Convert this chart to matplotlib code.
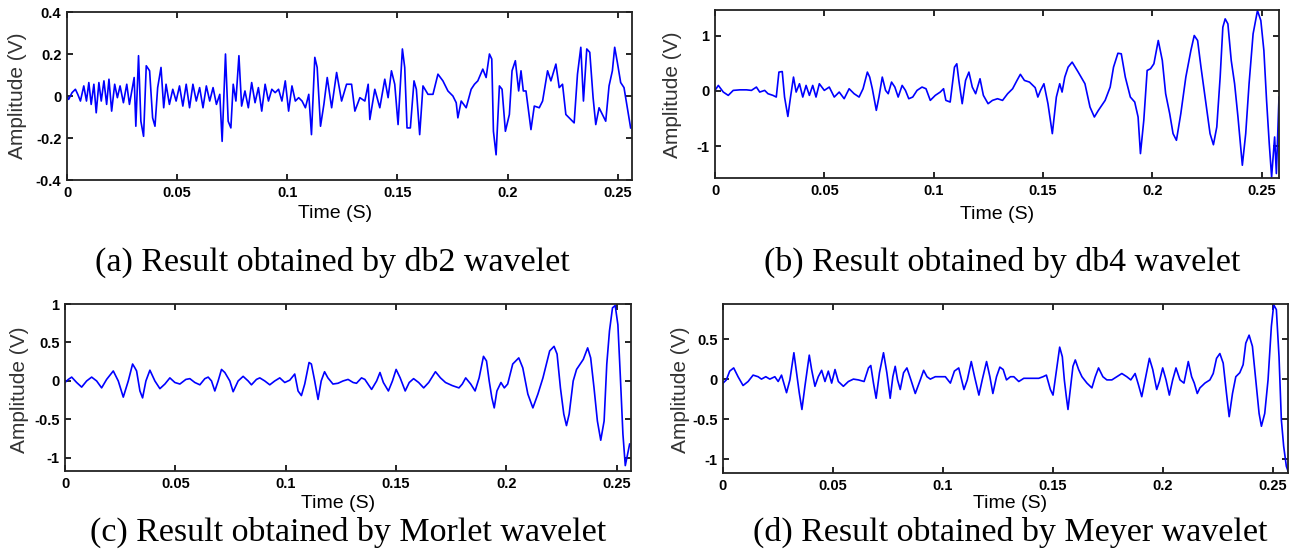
import numpy as np
import matplotlib
matplotlib.use('Agg')
import matplotlib.pyplot as plt

W, H = 1297, 555

# values: time in ms, amplitude in V
db2_t = [0.0, 0.76, 2.29, 3.81, 4.88, 6.10, 7.62, 8.84, 9.91, 10.98, 12.20, 13.26, 14.48, 15.55, 16.77,
         17.99, 19.05, 20.27, 21.65, 22.87, 24.09, 25.61, 27.13, 28.35, 29.42, 30.49, 31.25, 32.47, 33.54,
         34.76, 35.98, 37.50, 38.87, 39.94, 41.16, 42.68, 43.90, 44.97, 46.49, 48.02, 49.54, 51.07, 52.59,
         54.12, 55.64, 57.16, 58.69, 60.21, 61.74, 63.26, 64.79, 66.31, 67.84, 69.36, 70.43, 71.95, 73.17,
         74.39, 75.46, 76.68, 78.05, 79.27, 80.79, 82.32, 83.84, 85.37, 86.89, 88.41, 89.94, 91.46, 92.99,
         94.51, 96.04, 97.56, 99.09, 100.61, 102.13, 103.66, 105.18, 106.71, 108.23, 109.76, 110.98, 112.50,
         113.57, 115.09, 116.62, 118.14, 120.14, 122.4, 124.66, 126.92, 129.19, 130.69, 132.96, 135.22,
         136.73, 137.48, 139.74, 142.01, 144.27, 145.78, 147.29, 148.79, 150.30, 152.26, 153.32, 154.37,
         155.88, 157.54, 158.60, 160.11, 161.61, 163.88, 166.14, 168.40, 170.66, 172.93, 175.19, 176.70,
         177.45, 178.96, 181.22, 183.48, 184.99, 186.50, 188.76, 190.27, 191.78, 192.84, 193.59, 194.80,
         196.30, 197.51, 199.02, 200.83, 202.04, 203.54, 205.05, 206.11, 207.16, 208.37, 210.63, 212.14,
         214.40, 215.91, 218.17, 219.68, 221.95, 223.45, 224.96, 226.47, 228.73, 230.24, 231.75, 233.26,
         234.46, 235.97, 237.33, 238.84, 240.05, 241.55, 243.06, 244.57, 246.08, 247.59, 248.64, 249.85,
         251.36, 252.87, 254.37, 255.88]
db2_v = [0.0, -0.016, 0.016, 0.032, 0.008, -0.024, 0.048, -0.024, 0.064, -0.04, 0.056, -0.08, 0.064, -0.024,
         0.072, -0.04, 0.08, -0.072, 0.056, -0.008, 0.048, -0.032, 0.056, -0.04, 0.024, 0.088, -0.144, 0.192,
         -0.12, -0.192, 0.144, 0.12, -0.104, -0.144, 0.04, 0.136, -0.056, 0.056, -0.04, 0.032, -0.024, 0.048,
         -0.048, 0.056, -0.056, 0.056, -0.024, 0.04, -0.056, 0.048, -0.024, 0.04, -0.04, 0.008, -0.216, 0.2,
         -0.12, -0.152, 0.056, -0.024, 0.192, -0.048, 0.024, -0.056, 0.064, -0.032, 0.04, -0.072, 0.056,
         -0.024, 0.032, 0.016, 0.032, -0.024, 0.072, -0.072, 0.048, -0.024, -0.008, -0.024, -0.056, 0.008,
         -0.184, 0.184, 0.136, -0.144, -0.04, 0.088, -0.056, 0.112, -0.024, 0.056, 0.056, -0.072, -0.008,
         -0.024, 0.056, -0.112, 0.032, -0.056, 0.08, -0.008, 0.12, 0.056, -0.136, 0.224, 0.136, -0.152,
         -0.152, 0.072, 0.032, -0.184, 0.048, 0.008, 0.008, 0.104, 0.072, 0.024, 0.0, -0.032, -0.104, -0.024,
         -0.056, 0.032, 0.056, 0.072, 0.128, 0.088, 0.2, 0.176, -0.168, -0.28, 0.048, 0.032, -0.168, -0.088,
         0.12, 0.168, 0.024, 0.12, 0.024, 0.024, -0.16, -0.048, -0.056, -0.024, 0.12, 0.072, 0.152, 0.04,
         0.056, -0.088, -0.112, -0.128, 0.104, 0.232, -0.024, 0.224, 0.208, -0.008, -0.136, -0.056, -0.088,
         -0.12, 0.048, 0.12, 0.232, 0.16, 0.064, 0.04, -0.056, -0.152]

db4_t = [0.0, 1.52, 3.79, 6.06, 8.33, 11.36, 14.39, 16.67, 18.94, 20.45, 22.73, 24.24, 26.52, 28.03, 29.24,
         30.76, 31.82, 33.33, 34.55, 35.91, 37.12, 38.64, 40.15, 41.67, 43.18, 44.70, 46.21, 47.73, 50.0,
         52.27, 54.55, 56.82, 59.09, 61.36, 63.64, 65.91, 67.73, 69.70, 70.76, 71.97, 73.79, 75.0, 76.52,
         78.03, 79.24, 80.76, 82.27, 83.79, 85.61, 87.12, 88.64, 90.45, 92.42, 94.70, 96.52, 98.48, 100.76,
         103.03, 104.55, 105.61, 107.58, 109.55, 110.61, 111.54, 113.08, 114.62, 116.15, 117.69, 119.23,
         121.23, 122.77, 124.92, 126.92, 129.23, 131.54, 133.85, 136.15, 138.15, 139.69, 141.54, 143.85,
         146.46, 147.69, 148.92, 150.46, 152.31, 154.31, 156.15, 157.69, 158.77, 160.0, 161.54, 163.38,
         166.15, 169.23, 171.54, 173.54, 175.38, 178.46, 180.77, 182.31, 184.31, 185.85, 187.69, 190.0,
         192.0, 193.54, 194.62, 196.15, 197.69, 199.23, 200.77, 202.77, 204.62, 206.15, 208.0, 209.54,
         211.08, 213.08, 215.38, 217.69, 219.23, 220.77, 222.31, 224.62, 226.46, 228.0, 229.54, 231.08,
         232.31, 233.38, 234.62, 236.15, 237.69, 239.23, 241.23, 242.77, 244.31, 246.15, 248.15, 249.69,
         251.08, 252.31, 253.54, 254.62, 256.0, 256.8, 258.0]
db4_v = [0.01, 0.10, -0.02, -0.08, 0.01, 0.02, 0.02, 0.01, 0.07, -0.02, 0.01, -0.05, -0.08, -0.11, 0.34,
         0.35, -0.11, -0.46, -0.11, 0.25, -0.02, 0.13, -0.11, 0.10, -0.08, 0.10, -0.11, 0.13, 0.01, 0.07,
         -0.11, -0.02, -0.14, 0.04, -0.05, -0.11, 0.04, 0.34, 0.25, 0.04, -0.35, -0.11, 0.25, 0.01, -0.05,
         0.16, 0.07, -0.11, 0.10, 0.01, -0.14, -0.11, 0.01, 0.07, 0.04, -0.17, -0.08, -0.02, 0.04, -0.17,
         -0.2, 0.43, 0.49, 0.19, -0.23, 0.19, 0.34, 0.07, -0.05, 0.22, -0.08, -0.23, -0.17, -0.14, -0.17,
         -0.05, 0.04, 0.19, 0.30, 0.19, 0.16, 0.06, -0.11, 0.01, 0.13, -0.23, -0.77, -0.11, 0.13, -0.02,
         0.25, 0.43, 0.52, 0.34, 0.13, -0.29, -0.47, -0.35, -0.17, 0.07, 0.43, 0.68, 0.67, 0.25, -0.11,
         -0.20, -0.47, -1.13, -0.53, 0.37, 0.40, 0.49, 0.91, 0.55, -0.05, -0.41, -0.77, -0.89, -0.41, 0.25,
         0.73, 1.0, 0.91, 0.43, -0.23, -0.77, -0.97, -0.65, 0.25, 1.15, 1.30, 1.21, 0.55, 0.13, -0.47, -1.34,
         -0.77, 0.13, 1.03, 1.45, 1.27, 0.73, -0.17, -0.95, -1.55, -0.83, -1.49, -0.11]

morlet_t = [0.0, 1.51, 3.02, 5.28, 7.54, 9.80, 12.07, 14.33, 16.59, 18.85, 21.87, 24.13, 26.40, 28.66,
            30.62, 31.67, 32.43, 33.94, 35.14, 36.65, 38.46, 40.72, 42.99, 45.25, 47.51, 49.77, 52.04,
            54.75, 56.56, 58.82, 61.09, 63.35, 64.86, 66.37, 67.87, 69.38, 70.89, 72.40, 74.66, 76.17,
            78.43, 80.69, 82.96, 84.46, 86.73, 88.24, 90.50, 92.76, 95.02, 97.29, 99.55, 101.81, 104.07,
            105.58, 107.09, 108.6, 110.56, 111.61, 113.12, 114.63, 116.06, 117.58, 119.10, 121.38, 123.67,
            125.95, 128.23, 130.52, 132.04, 134.32, 135.84, 138.89, 141.17, 142.69, 144.22, 146.50, 148.33,
            150.0, 151.83, 154.11, 155.94, 157.91, 160.20, 162.48, 164.76, 167.81, 170.09, 172.37, 175.42,
            178.46, 179.98, 181.51, 183.79, 185.77, 187.60, 189.57, 190.94, 192.16, 193.38, 194.44, 195.66,
            197.49, 199.01, 200.53, 202.82, 205.56, 207.38, 209.67, 211.95, 214.23, 216.51, 219.56, 221.54,
            222.91, 224.43, 225.95, 227.17, 228.39, 230.21, 231.74, 234.78, 236.76, 238.13, 239.65, 241.17,
            242.69, 244.22, 245.43, 246.65, 248.02, 249.24, 250.46, 251.52, 252.74, 253.81, 254.87, 255.78]
morlet_v = [-0.02, 0.02, 0.05, -0.02, -0.08, 0.0, 0.05, 0.0, -0.09, 0.02, 0.13, 0.0, -0.21, 0.0, 0.22, 0.17,
            0.13, -0.13, -0.22, 0.0, 0.14, 0.0, -0.10, -0.04, 0.04, -0.02, -0.04, 0.02, 0.03, -0.02, -0.05,
            0.03, 0.05, 0.0, -0.13, 0.0, 0.15, 0.11, 0.0, -0.14, 0.0, 0.06, 0.0, -0.05, 0.02, 0.04, 0.0, -0.05,
            0.0, 0.04, -0.02, 0.01, 0.09, -0.13, -0.19, -0.04, 0.24, 0.22, 0.0, -0.24, 0.0, 0.12, 0.04, -0.04,
            -0.03, 0.0, 0.02, -0.02, -0.03, 0.04, 0.02, -0.11, 0.0, 0.11, -0.02, -0.13, 0.0, 0.15, 0.04, -0.13,
            -0.02, 0.03, -0.02, -0.09, -0.02, 0.12, 0.04, -0.02, -0.06, -0.09, -0.04, 0.04, -0.04, -0.13, 0.04,
            0.32, 0.26, 0.0, -0.22, -0.35, -0.13, -0.02, -0.09, -0.04, 0.22, 0.30, 0.17, -0.17, -0.35, -0.17,
            0.04, 0.39, 0.45, 0.35, -0.09, -0.43, -0.58, -0.43, 0.0, 0.15, 0.28, 0.43, 0.30, -0.09, -0.52,
            -0.77, -0.52, 0.22, 0.65, 0.95, 0.98, 0.73, 0.09, -0.69, -1.10, -0.95, -0.82]

meyer_t = [0.0, 1.52, 3.04, 4.86, 6.84, 9.12, 11.40, 13.68, 15.96, 17.48, 19.45, 21.28, 23.56, 25.08, 26.60,
           28.88, 30.40, 32.22, 33.43, 34.65, 35.87, 37.23, 39.21, 40.27, 41.79, 43.31, 44.83, 46.35, 47.87,
           49.39, 50.91, 52.43, 54.71, 56.99, 59.27, 61.55, 64.13, 66.11, 67.17, 68.39, 69.60, 71.12, 72.95,
           74.47, 75.99, 77.20, 78.27, 79.33, 80.55, 82.07, 83.59, 85.41, 87.39, 89.67, 91.19, 92.71, 94.22,
           96.50, 98.78, 101.06, 103.34, 105.17, 107.14, 109.52, 111.03, 112.84, 114.35, 116.31, 117.82,
           119.79, 121.30, 122.66, 124.32, 125.83, 127.34, 128.85, 130.66, 132.18, 134.44, 136.71, 138.97,
           141.24, 143.50, 145.47, 146.98, 148.79, 150.0, 151.81, 153.02, 154.23, 155.14, 156.04, 156.80,
           157.85, 159.06, 160.12, 161.63, 163.14, 165.41, 167.67, 169.18, 170.69, 172.66, 174.47, 176.74,
           179.0, 181.27, 183.53, 185.35, 187.31, 188.82, 190.33, 191.84, 193.81, 195.32, 197.13, 198.34,
           199.85, 201.36, 202.87, 204.38, 205.89, 207.70, 209.52, 211.48, 213.0, 214.2, 215.56, 216.77,
           219.03, 221.3, 222.81, 224.32, 225.83, 227.34, 228.85, 230.06, 231.57, 233.08, 234.89, 236.40,
           237.61, 239.12, 240.63, 242.15, 243.66, 244.71, 246.22, 247.73, 249.24, 250.30, 251.51, 252.72,
           253.78, 254.83, 256.04, 256.80]
meyer_v = [-0.05, -0.01, 0.10, 0.14, 0.03, -0.08, -0.03, 0.05, 0.03, 0.0, 0.03, 0.0, 0.03, -0.03, 0.05,
           -0.17, -0.01, 0.33, 0.08, -0.17, -0.38, -0.09, 0.30, 0.12, -0.09, 0.03, 0.11, -0.03, 0.10, -0.05,
           0.12, -0.03, -0.09, -0.03, 0.0, -0.01, -0.03, 0.14, 0.17, -0.05, -0.24, 0.08, 0.33, 0.08, -0.24,
           0.03, 0.16, -0.01, -0.13, 0.08, 0.14, -0.01, -0.18, -0.01, 0.11, 0.03, 0.0, 0.03, 0.03, 0.03, -0.05,
           0.10, 0.14, -0.13, -0.01, 0.22, 0.03, -0.20, -0.01, 0.22, 0.03, -0.18, 0.03, 0.15, 0.12, -0.01,
           0.03, 0.03, -0.03, 0.01, 0.01, 0.01, 0.01, 0.03, 0.05, -0.13, -0.20, 0.16, 0.40, 0.28, -0.01, -0.22,
           -0.38, -0.13, 0.16, 0.24, 0.12, 0.03, -0.05, -0.11, 0.03, 0.14, 0.03, -0.01, -0.01, 0.03, 0.07,
           0.03, -0.01, 0.07, -0.07, -0.22, -0.01, 0.26, 0.12, -0.13, -0.03, 0.14, -0.01, -0.20, -0.01, 0.14,
           -0.01, -0.05, 0.22, 0.03, -0.05, -0.18, -0.11, -0.05, -0.01, 0.07, 0.26, 0.32, 0.20, -0.18, -0.47,
           -0.18, 0.03, 0.08, 0.18, 0.45, 0.55, 0.41, -0.01, -0.43, -0.59, -0.43, -0.01, 0.66, 0.93, 0.87,
           0.28, -0.51, -0.84, -1.09, -1.15]

captions = ['(a) Result obtained by db2 wavelet', '(b) Result obtained by db4 wavelet',
            '(c) Result obtained by Morlet wavelet', '(d) Result obtained by Meyer wavelet']
x_ticks = [0, 0.05, 0.1, 0.15, 0.2, 0.25]
x_labels = ['0', '0.05', '0.1', '0.15', '0.2', '0.25']

fig = plt.figure(figsize=(W / 100, H / 100), dpi=100)


def px(x, y):
    return x / W, 1 - y / H


# (series, axes box l r t b in px, xlim, ylim, yticks, label positions)
panels = [
    (db2_t, db2_v, (67, 632, 12, 180), 0.2565, (-0.4, 0.4), [-0.4, -0.2, 0, 0.2, 0.4],
     ['-0.4', '-0.2', '0', '0.2', '0.4'], (335, 213), (18, 96), (332, 262)),
    (db4_t, db4_v, (715, 1279, 10, 178), 0.258, (-1.57, 1.46), [-1, 0, 1],
     ['-1', '0', '1'], (997, 214), (672, 95), (1002, 262)),
    (morlet_t, morlet_v, (65, 631, 304, 471), 0.2564, (-1.17, 1.0), [-1, -0.5, 0, 0.5, 1],
     ['-1', '-0.5', '0', '0.5', '1'], (338, 503), (20, 390), (348, 532)),
    (meyer_t, meyer_v, (723, 1288, 304, 473), 0.2568, (-1.175, 0.94), [-1, -0.5, 0, 0.5],
     ['-1', '-0.5', '0', '0.5'], (1010, 504), (680, 390), (1010, 532)),
]

for i, (t, v, box, xmax, ylim, yt, ytl, xl_pos, yl_pos, cap_pos) in enumerate(panels):
    l, r, top, b = box
    ax = fig.add_axes([l / W, 1 - b / H, (r - l) / W, (b - top) / H])
    ax.plot(np.array(t) / 1000.0, v, color='#0000ff', lw=1.2)
    ax.set_xlim(0, xmax)
    ax.set_ylim(*ylim)
    ax.set_xticks(x_ticks)
    ax.set_xticklabels(x_labels, fontweight='bold', fontsize=10.5, family='Liberation Sans')
    ax.set_yticks(yt)
    ax.set_yticklabels(ytl, fontweight='bold', fontsize=10.5, family='Liberation Sans')
    ax.tick_params(direction='in', top=True, right=True, length=4, width=1.2, pad=4)
    for s in ax.spines.values():
        s.set_linewidth(1.3)
        s.set_color('#222222')
    fig.text(*px(*xl_pos), 'Time (S)', ha='center', va='center', fontsize=14, family='Liberation Sans')
    fig.text(*px(*yl_pos), 'Amplitude (V)', ha='center', va='center', rotation=90,
             fontsize=15, family='Liberation Sans', color='#333333')
    fig.text(*px(*cap_pos), captions[i], ha='center', va='center', fontsize=24.5, family='Liberation Serif')

fig.savefig('out.png', dpi=100)
